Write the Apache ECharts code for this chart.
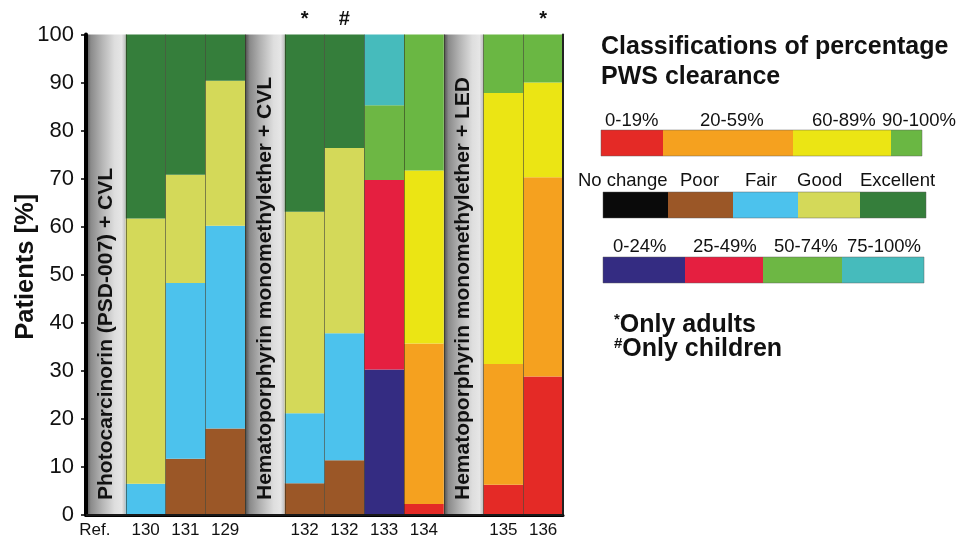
<!DOCTYPE html>
<html><head><meta charset="utf-8">
<script src="https://cdn.jsdelivr.net/npm/echarts@6/dist/echarts.min.js"></script>
<style>html,body{margin:0;padding:0;background:#fff}#c{width:967px;height:539px}</style>
</head><body><div id="c"></div>
<script>
// ---- categories / tick labels ----
const slots = ["ref1","130","131","129","ref2","132a","132b","133","134","ref3","135","136"];
const tickLabels = ["Ref.","130","131","129","","132","132","133","134","","135","136"];
const markers = ["","","","","","*","#","","","","","*"];
const yTicks = [0,10,20,30,40,50,60,70,80,90,100];

// ---- reference bands (method groups) ----
const refBand = [100,null,null,null,100,null,null,null,null,100,null,null];
const bandTexts = ["Photocarcinorin (PSD-007) + CVL",null,null,null,"Hematoporphyrin monomethylether + CVL",null,null,null,null,"Hematoporphyrin monomethylether + LED",null,null];

// ---- response scale (No change / Poor / Fair / Good / Excellent) ----
const poor      = [null,null,11.7,18.0,null, 6.6,11.4,null,null,null,null,null];
const fair      = [null, 6.5,36.6,42.2,null,14.6,26.4,null,null,null,null,null];
const good      = [null,55.2,22.5,30.2,null,41.9,38.6,null,null,null,null,null];
const excellent = [null,38.3,29.2, 9.6,null,36.9,23.6,null,null,null,null,null];

// ---- quartile scale (0-24 / 25-49 / 50-74 / 75-100 %) ----
const q0_24   = [null,null,null,null,null,null,null,30.3,null,null,null,null];
const q25_49  = [null,null,null,null,null,null,null,39.4,null,null,null,null];
const q50_74  = [null,null,null,null,null,null,null,15.6,null,null,null,null];
const q75_100 = [null,null,null,null,null,null,null,14.7,null,null,null,null];

// ---- clearance scale (0-19 / 20-59 / 60-89 / 90-100 %) ----
const c0_19   = [null,null,null,null,null,null,null,null, 2.3,null, 6.3,28.8];
const c20_59  = [null,null,null,null,null,null,null,null,33.4,null,25.1,41.5];
const c60_89  = [null,null,null,null,null,null,null,null,36.0,null,56.4,19.7];
const c90_100 = [null,null,null,null,null,null,null,null,28.3,null,12.2,10.0];

// ---- legend ----
const legendTitle = ["Classifications of percentage","PWS clearance"];
const scaleALabels = ["0-19%","20-59%","60-89%","90-100%"];
const scaleBLabels = ["No change","Poor","Fair","Good","Excellent"];
const scaleCLabels = ["0-24%","25-49%","50-74%","75-100%"];
const footnotes = [["*","Only adults"],["#","Only children"]];

const FF = '"Liberation Sans", Arial, Helvetica, sans-serif';
const COL = {
  red:'#e42a26', orange:'#f5a11f', yellow:'#ebe514', green90:'#6ab743',
  nochange:'#0a0a0a', poor:'#9b5727', fair:'#4cc2ed', good:'#d4d959', excellent:'#357e3b',
  navy:'#342c82', crimson:'#e51f40', green50:'#6db744', teal:'#46bbbc'
};

function seg(name, data, color){
  return {name, type:'bar', stack:'s', data, barCategoryGap:'0%', barGap:'0%',
    itemStyle:{color}, emphasis:{disabled:true}, z:2};
}

const series = [
  {name:'ref', type:'bar', stack:'s', data:refBand, barCategoryGap:'0%', z:2,
   emphasis:{disabled:true},
   itemStyle:{color:{type:'linear',x:0,y:0,x2:1,y2:0,colorStops:[
     {offset:0,color:'#4a4a4a'},{offset:0.12,color:'#8a8a8a'},{offset:0.4,color:'#b4b4b4'},
     {offset:0.72,color:'#dedede'},{offset:0.9,color:'#e6e6e6'},{offset:1,color:'#bcbcbc'}]}},
   label:{show:true, position:'insideBottom', rotate:90, align:'left', verticalAlign:'middle',
     distance:15, formatter:p=>bandTexts[p.dataIndex]||'', fontFamily:FF, fontWeight:'bold',
     fontSize:21, color:'#111'}},
  seg('Poor', poor, COL.poor),
  seg('Fair', fair, COL.fair),
  seg('Good', good, COL.good),
  seg('Excellent', excellent, COL.excellent),
  seg('0-24%', q0_24, COL.navy),
  seg('25-49%', q25_49, COL.crimson),
  seg('50-74%', q50_74, COL.green50),
  seg('75-100%', q75_100, COL.teal),
  seg('0-19%', c0_19, COL.red),
  seg('20-59%', c20_59, COL.orange),
  seg('60-89%', c60_89, COL.yellow),
  seg('90-100%', c90_100, COL.green90)
];

// ---- legend graphics ----
const g = [];
function txt(x,y,text,font,align){ g.push({type:'text', x, y, z:10, style:{text, font, fill:'#111', align:align||'left', verticalAlign:'middle'}}); }
function bar(y, edges, colors){
  for(let i=0;i<colors.length;i++){
    g.push({type:'rect', z:10, shape:{x:edges[i], y, width:edges[i+1]-edges[i], height:26}, style:{fill:colors[i]}});
  }
  g.push({type:'rect', z:11, shape:{x:edges[0], y, width:edges[edges.length-1]-edges[0], height:26}, style:{fill:'none', stroke:'rgba(90,90,90,0.45)', lineWidth:1}});
}
txt(601, 47, legendTitle[0], 'bold 25px '+FF);
txt(601, 77, legendTitle[1], 'bold 25px '+FF);
[605,700,812,882].forEach((x,i)=>txt(x,121,scaleALabels[i],'18.5px '+FF));
bar(130,[601,663,793,891,922],[COL.red,COL.orange,COL.yellow,COL.green90]);
[578,680,745,797,860].forEach((x,i)=>txt(x,181,scaleBLabels[i],'18.5px '+FF));
bar(192,[603,668,733,798,860,926],[COL.nochange,COL.poor,COL.fair,COL.good,COL.excellent]);
[613,693,774,847].forEach((x,i)=>txt(x,247,scaleCLabels[i],'18.5px '+FF));
bar(257,[603,685,763,842,924],[COL.navy,COL.crimson,COL.green50,COL.teal]);
footnotes.forEach((f,i)=>{
  g.push({type:'text', x:614, y:325+i*24, z:10, style:{
    text:'{s|'+f[0]+'}{m|'+f[1]+'}', verticalAlign:'middle', align:'left',
    rich:{s:{font:'bold 15px '+FF, fill:'#111', verticalAlign:'top', padding:[0,0,8,0]},
          m:{font:'bold 25px '+FF, fill:'#111'}}}});
});

const chart = echarts.init(document.getElementById('c'), null, {renderer:'canvas'});
chart.setOption({
  animation:false,
  backgroundColor:'#fff',
  grid:{left:86, right:404, top:34.5, bottom:24, containLabel:false},
  xAxis:[
    {type:'category', data:slots, position:'bottom', z:5,
     axisLine:{lineStyle:{color:'#000', width:3}}, axisTick:{show:false},
     axisLabel:{interval:0, formatter:(v,i)=>i===0?'{r|'+tickLabels[i]+'}':tickLabels[i],
       fontFamily:FF, fontSize:17, color:'#111', margin:7,
       rich:{r:{fontFamily:FF, fontSize:17, color:'#111', padding:[0,22,0,0]}}},
     splitLine:{show:true, interval:0, lineStyle:{color:'rgba(45,45,30,0.55)', width:1}}},
    {type:'category', data:slots, position:'top', z:5,
     axisLine:{lineStyle:{color:'#222', width:1.5}}, axisTick:{show:false},
     axisLabel:{interval:0, formatter:(v,i)=>markers[i], fontFamily:FF, fontSize:20, fontWeight:'bold', color:'#111', margin:5}}
  ],
  yAxis:[
    {type:'value', min:yTicks[0], max:yTicks[yTicks.length-1], interval:10, z:5,
     axisLine:{show:true, lineStyle:{color:'#000', width:4}},
     axisTick:{show:true, length:5, lineStyle:{color:'#000', width:1.5}},
     axisLabel:{fontFamily:FF, fontSize:22, color:'#111', margin:12},
     splitLine:{show:false},
     name:'Patients [%]', nameLocation:'middle', nameGap:47, nameMoveOverlap:false,
     nameTextStyle:{fontFamily:FF, fontWeight:'bold', fontSize:25.5, color:'#111', padding:[0,0,0,16]}},
    {type:'value', min:0, max:100, interval:10, position:'right', z:5,
     axisLine:{show:true, lineStyle:{color:'#222', width:2}},
     axisTick:{show:false}, axisLabel:{show:false}, splitLine:{show:false}}
  ],
  series,
  graphic:g
});
</script></body></html>
